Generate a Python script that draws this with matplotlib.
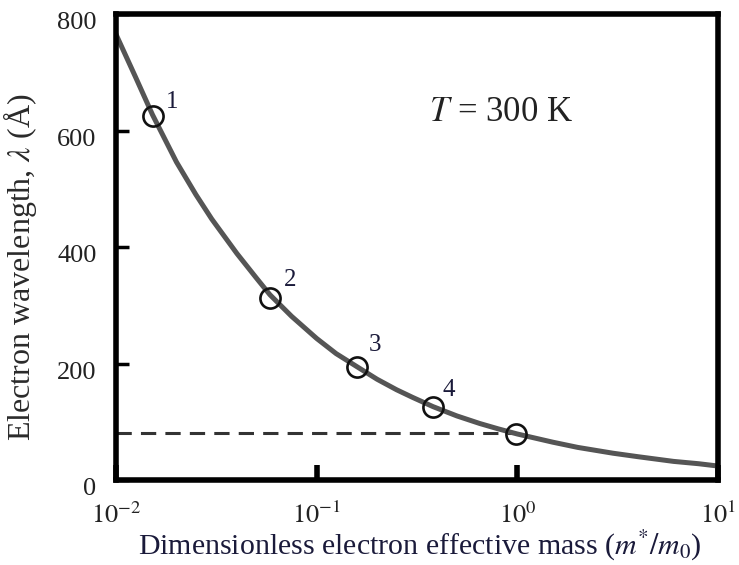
import matplotlib
matplotlib.use("Agg")
import matplotlib.pyplot as plt
from matplotlib.transforms import ScaledTranslation

plt.rcParams['font.family'] = ['Liberation Serif', 'DejaVu Serif']
plt.rcParams['mathtext.fontset'] = 'stix'

# curve: effective mass ratio vs wavelength (Angstrom)
mass = [0.01, 0.0125, 0.0152, 0.02, 0.025, 0.03, 0.04, 0.05, 0.0585, 0.075,
        0.1, 0.125, 0.158, 0.2, 0.25, 0.3, 0.38, 0.5, 0.65, 0.8,
        1.0, 1.5, 2.0, 3.0, 4.0, 6.0, 8.0, 10.0]
wavelength = [765, 692, 627, 546, 490, 448, 389, 347, 318, 281,
              243, 217, 195, 173, 155, 142, 126, 110, 97, 88,
              79, 65, 56, 46, 40, 32, 28, 24]

# marked materials
pt_mass = [0.0152, 0.0585, 0.158, 0.38, 0.98]
pt_lambda = [625, 312, 194, 125, 79]
pt_labels = ['1', '2', '3', '4', '']
pt_offsets = [(14, 10), (14.5, 13), (13, 16), (11, 12.5), (0, 0)]

dash_level = 81

xticks = [1e-2, 1e-1, 1e0, 1e1]
xticklabels = [r'$10^{-2}$', r'$10^{-1}$', r'$10^{0}$', r'$10^{1}$']
yticks = [0, 200, 400, 600, 800]

fig = plt.figure(figsize=(7.39, 5.65), dpi=100)
ax = fig.add_axes([0.157, 0.1504, 0.8146, 0.8248])

ax.plot(mass, wavelength, color='#555555', lw=3.6, solid_joinstyle='round', zorder=2)

ax.plot([1e-2, pt_mass[-1]], [dash_level, dash_level], ls=(0, (5, 3)), color='#333333', lw=2.2, zorder=1)

ax.plot(pt_mass, pt_lambda, 'o', ms=14.5, mfc='none', mec='#111111', mew=1.9, zorder=3)
for m, l, t, off in zip(pt_mass, pt_lambda, pt_labels, pt_offsets):
    if t:
        ax.annotate(t, (m, l), xytext=off, textcoords='offset points',
                    fontsize=18, color='#1a1a3a', ha='center', va='center')

ax.text(0.64, 0.788, r'$T$ = 300 K', transform=ax.transAxes, fontsize=25,
        ha='center', va='center', color='#222222')

ax.set_xscale('log')
ax.set_xlim(1e-2, 1e1)
ax.set_ylim(0, 800)
ax.set_xticks(xticks)
ax.set_xticklabels(xticklabels)
ax.minorticks_off()
ax.set_yticks(yticks)

for s in ax.spines.values():
    s.set_linewidth(4)
ax.tick_params(axis='x', direction='in', length=11, width=4, pad=16, labelsize=19, labelcolor='#222222')
ax.tick_params(axis='y', direction='in', length=9, width=2.5, pad=14, labelsize=19, labelcolor='#222222')
for lab in ax.get_yticklabels():
    lab.set_transform(lab.get_transform() + ScaledTranslation(0, -5 / 72, fig.dpi_scale_trans))

ax.set_xlabel(r'Dimensionless electron effective mass ($m^{*}/m_0$)', fontsize=21.5, color='#1a1a3a')
ax.set_ylabel(r'Electron wavelength, $\lambda$ (Å)', fontsize=23, color='#2a2a2a')
ax.xaxis.set_label_coords(0.505, -0.104)
ax.yaxis.set_label_coords(-0.128, 0.457)

fig.savefig('out.png', dpi=100)
